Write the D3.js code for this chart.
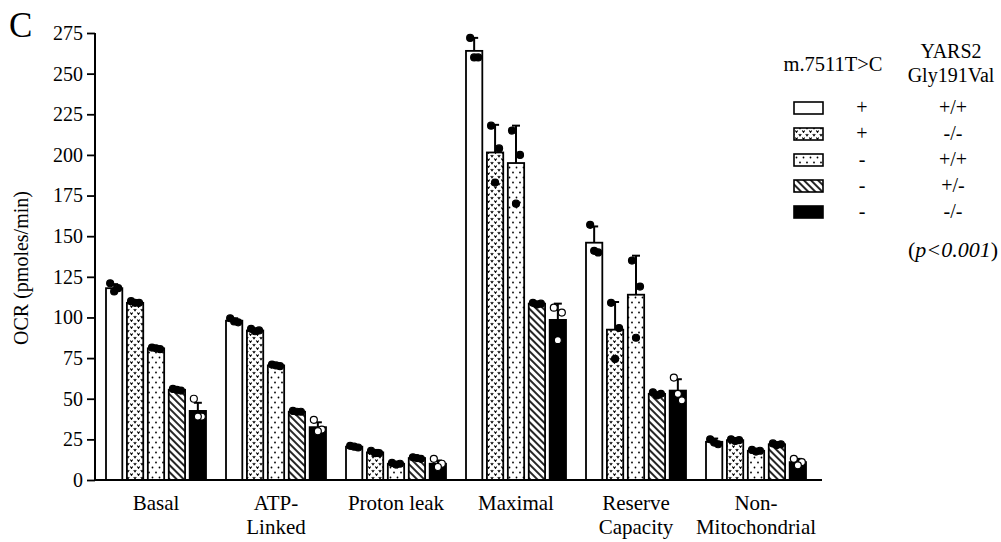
<!DOCTYPE html>
<html>
<head>
<meta charset="utf-8">
<script src="https://cdn.jsdelivr.net/npm/d3@7"></script>
<style>
  body { margin: 0; background: #fff; }
  text { font-family: "Liberation Serif", "DejaVu Serif", serif; fill: #000; }
</style>
</head>
<body>
<div id="chart"></div>
<script>
var w = 1001;
var h = 542;

// categories (label lines)
var categories = ["Basal", "ATP-Linked", "Proton leak", "Maximal", "Reserve Capacity", "Non-Mitochondrial"];
var categoryLines = [["Basal"], ["ATP-", "Linked"], ["Proton leak"], ["Maximal"], ["Reserve", "Capacity"], ["Non-", "Mitochondrial"]];

// genotypes
var groups = ["wt", "hearts", "dots", "hatch", "black"];
var mtLabels = ["+", "+", "-", "-", "-"];
var yarsLabels = ["+/+", "-/-", "+/+", "+/-", "-/-"];

// bar means, one array per genotype (order of categories)
var meanWt     = [118, 98, 20.5, 264, 146, 23.5];
var meanHearts = [109, 92, 17, 201.5, 92.5, 24.5];
var meanDots   = [81, 70.5, 10, 195, 114, 18];
var meanHatch  = [55.5, 42, 13.5, 108.5, 53, 22];
var meanBlack  = [42.5, 32.5, 10, 98.5, 55, 11];

// upper error (SD)
var sdWt     = [2.5, 1.5, 1, 8, 10, 2];
var sdHearts = [1, 1, 1.5, 17, 17, 1];
var sdDots   = [1, 1, 0.5, 23, 24, 1];
var sdHatch  = [1, 0.5, 1, 0.5, 1, 0.5];
var sdBlack  = [5, 3, 2, 10, 7, 2];

// replicate points
var ptsWt     = [[121, 118, 116], [99.5, 97, 97.5], [21, 20, 20.5], [272, 260, 260], [157, 140, 141], [25, 22, 23]];
var ptsHearts = [[110, 109, 109], [93, 92, 91.5], [18, 16.5, 16.5], [218, 204, 183], [109, 93.5, 74.5], [25, 24.5, 24]];
var ptsDots   = [[81.5, 80.5, 81], [71, 70, 70.5], [10.5, 10, 9.5], [215, 200, 170], [135, 119, 87.5], [18.5, 18, 17.5]];
var ptsHatch  = [[56, 55, 55.5], [42.5, 42, 42], [14, 13, 13.5], [109, 108.5, 108], [54, 53, 52], [22.5, 22, 21.5]];
var ptsBlack  = [[50, 39, 39], [37, 31, 30], [13, 10, 8], [106, 103, 86], [63, 49, 53], [13, 11, 9]];

var yTicks = [0, 25, 50, 75, 100, 125, 150, 175, 200, 225, 250, 275];

var means = [meanWt, meanHearts, meanDots, meanHatch, meanBlack];
var sds = [sdWt, sdHearts, sdDots, sdHatch, sdBlack];
var pts = [ptsWt, ptsHearts, ptsDots, ptsHatch, ptsBlack];
var fills = ["#fff", "url(#pHearts)", "url(#pDots)", "url(#pHatch)", "#000"];

var bars = [];
categories.forEach(function(c, ci) {
  groups.forEach(function(g, gi) {
    bars.push({ cat: c, grp: g, gi: gi, mean: means[gi][ci], sd: sds[gi][ci], pts: pts[gi][ci] });
  });
});

var svg = d3.select("#chart")
  .append("svg")
  .attr("width", w)
  .attr("height", h);

// patterns
var defs = svg.append("defs");
var pH = defs.append("pattern").attr("id", "pHearts")
  .attr("patternUnits", "userSpaceOnUse").attr("width", 7).attr("height", 7);
pH.append("rect").attr("width", 7).attr("height", 7).attr("fill", "#fff");
[[0.8, 1], [4.3, 4.5]].forEach(function(p) {
  pH.append("path")
    .attr("d", "M" + p[0] + "," + p[1] + " l1.2,1.8 l1.2,-1.8")
    .attr("fill", "none").attr("stroke", "#000").attr("stroke-width", 1.1);
});
var pD = defs.append("pattern").attr("id", "pDots")
  .attr("patternUnits", "userSpaceOnUse").attr("width", 7).attr("height", 10);
pD.append("rect").attr("width", 7).attr("height", 10).attr("fill", "#fff");
pD.append("circle").attr("cx", 2).attr("cy", 2.5).attr("r", 0.9).attr("fill", "#000");
pD.append("circle").attr("cx", 5.5).attr("cy", 7.5).attr("r", 0.9).attr("fill", "#000");
var pS = defs.append("pattern").attr("id", "pHatch")
  .attr("patternUnits", "userSpaceOnUse").attr("width", 5).attr("height", 5)
  .attr("patternTransform", "rotate(-45)");
pS.append("rect").attr("width", 5).attr("height", 5).attr("fill", "#fff");
pS.append("line").attr("x1", 1).attr("y1", 0).attr("x2", 1).attr("y2", 5)
  .attr("stroke", "#000").attr("stroke-width", 1.7);

// scales
var x0 = d3.scaleBand().domain(categories).range([96, 816])
  .paddingInner(1 / 6).paddingOuter(1 / 12);
var x1 = d3.scaleBand().domain(groups).range([0, x0.bandwidth()]).paddingInner(0.22);
var y = d3.scaleLinear().domain([0, 275]).range([480, 33]);

// bars
var barG = svg.append("g");
barG.selectAll("rect")
  .data(bars)
  .enter()
  .append("rect")
  .attr("x", function(d) { return x0(d.cat) + x1(d.grp); })
  .attr("y", function(d) { return y(d.mean); })
  .attr("width", x1.bandwidth())
  .attr("height", function(d) { return y(0) - y(d.mean); })
  .attr("fill", function(d) { return fills[d.gi]; })
  .attr("stroke", "#000")
  .attr("stroke-width", 1.8);

// error bars (upper only)
var err = svg.append("g").attr("stroke", "#000").attr("stroke-width", 2);
bars.forEach(function(d) {
  var cx = x0(d.cat) + x1(d.grp) + x1.bandwidth() / 2;
  err.append("line").attr("x1", cx).attr("x2", cx)
    .attr("y1", y(d.mean)).attr("y2", y(d.mean + d.sd));
  err.append("line").attr("x1", cx - 4).attr("x2", cx + 4)
    .attr("y1", y(d.mean + d.sd)).attr("y2", y(d.mean + d.sd));
});

// points
var jitter = [-4, 4, 0];
var ptG = svg.append("g");
bars.forEach(function(d) {
  var cx = x0(d.cat) + x1(d.grp) + x1.bandwidth() / 2;
  ptG.selectAll(null)
    .data(d.pts)
    .enter()
    .append("circle")
    .attr("cx", function(v, i) { return cx + jitter[i]; })
    .attr("cy", function(v) { return y(v); })
    .attr("r", 3.5)
    .attr("fill", d.gi === 4 ? "#fff" : "#000")
    .attr("stroke", "#000")
    .attr("stroke-width", 1.2);
});

// y axis
var yAxis = svg.append("g")
  .attr("transform", "translate(95,0)")
  .call(d3.axisLeft(y).tickValues(yTicks).tickSize(8).tickPadding(4));
yAxis.select(".domain").attr("stroke-width", 2).attr("d", "M0,33V480");
yAxis.selectAll(".tick line").attr("stroke-width", 1.8);
yAxis.selectAll(".tick text")
  .style("font-family", "Liberation Serif, serif")
  .style("font-size", "20px");

// x axis line
svg.append("line")
  .attr("x1", 94).attr("x2", 822)
  .attr("y1", 480).attr("y2", 480)
  .attr("stroke", "#000").attr("stroke-width", 2);

// category labels
categories.forEach(function(c, ci) {
  var t = svg.append("text")
    .attr("x", x0(c) + x0.bandwidth() / 2)
    .attr("y", 510)
    .attr("text-anchor", "middle")
    .style("font-size", "21px");
  categoryLines[ci].forEach(function(line, li) {
    t.append("tspan")
      .attr("x", x0(c) + x0.bandwidth() / 2)
      .attr("dy", li === 0 ? 0 : 24)
      .text(line);
  });
});

// y title
svg.append("text")
  .attr("transform", "translate(28,268) rotate(-90)")
  .attr("text-anchor", "middle")
  .style("font-size", "20px")
  .text("OCR (pmoles/min)");

// panel letter
svg.append("text")
  .attr("x", 9).attr("y", 37)
  .style("font-size", "35px")
  .text("C");

// legend
var lg = svg.append("g");
lg.append("text").attr("x", 833).attr("y", 71).attr("text-anchor", "middle")
  .style("font-size", "20.5px").text("m.7511T>C");
lg.append("text").attr("x", 951).attr("y", 58).attr("text-anchor", "middle")
  .style("font-size", "20px").text("YARS2");
lg.append("text").attr("x", 951).attr("y", 82).attr("text-anchor", "middle")
  .style("font-size", "20px").text("Gly191Val");

groups.forEach(function(g, gi) {
  var ry = 108 + gi * 26;
  lg.append("rect")
    .attr("x", 794).attr("y", ry - 6)
    .attr("width", 29).attr("height", 12)
    .attr("fill", fills[gi]).attr("stroke", "#000").attr("stroke-width", 1.6);
  lg.append("text").attr("x", 862).attr("y", ry + 6).attr("text-anchor", "middle")
    .style("font-size", "20px").text(mtLabels[gi]);
  lg.append("text").attr("x", 953).attr("y", ry + 6).attr("text-anchor", "middle")
    .style("font-size", "20px").text(yarsLabels[gi]);
});

var pt = lg.append("text").attr("x", 953).attr("y", 257).attr("text-anchor", "middle")
  .style("font-size", "22px");
pt.append("tspan").text("(");
pt.append("tspan").style("font-style", "italic").text("p<0.001");
pt.append("tspan").text(")");
</script>
</body>
</html>
